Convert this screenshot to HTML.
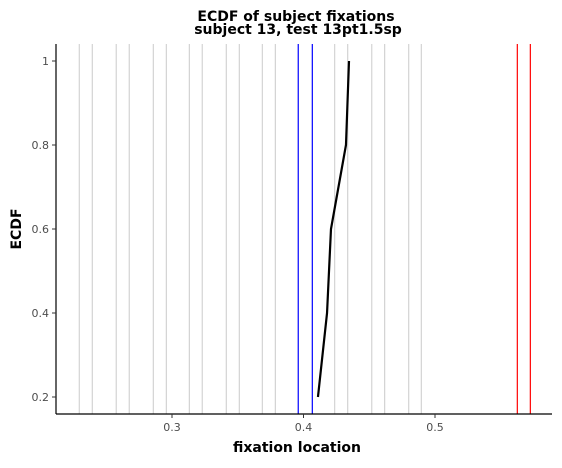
<!DOCTYPE html>
<html><head><meta charset="utf-8"><style>
body{margin:0;background:#fff;font-family:"DejaVu Sans","Liberation Sans",sans-serif}
</style></head><body>
<svg id="chart" width="562" height="464" xmlns="http://www.w3.org/2000/svg" font-family="DejaVu Sans, Liberation Sans, sans-serif">
<text x="296" y="21" text-anchor="middle" font-size="14" font-weight="bold">ECDF of subject fixations</text>
<text x="298" y="34" text-anchor="middle" font-size="14" font-weight="bold">subject 13, test 13pt1.5sp</text>
<g id="marks"></g>
<line x1="56" y1="44" x2="56" y2="414" stroke="#000" stroke-width="1.2"/>
<line x1="56" y1="414" x2="552" y2="414" stroke="#000" stroke-width="1.2"/>
<g id="ticks"></g>
<text x="297" y="452" text-anchor="middle" font-size="14" font-weight="bold">fixation location</text>
<text transform="translate(21,229) rotate(-90)" text-anchor="middle" font-size="14" font-weight="bold">ECDF</text>
</svg>
<script>
const grayLines=[0.2295,0.2394,0.2576,0.2675,0.2858,0.2957,0.3132,0.3230,0.3413,0.3512,0.3687,0.3786,0.4237,0.4336,0.4519,0.4617,0.4800,0.4896];
const blueLines=[0.3960,0.4067];
const redLines=[0.5626,0.5725];
const ecdfX=[0.4110,0.4179,0.4209,0.4323,0.4346];
const ecdfY=[0.2,0.4,0.6,0.8,1.0];
const xTicks=[0.3,0.4,0.5];
const yTicks=[0.2,0.4,0.6,0.8,1];
const NS="http://www.w3.org/2000/svg";
const sx=v=>172+(v-0.3)*1315;
const sy=v=>397-(v-0.2)*420;
const marks=document.getElementById('marks'),ticks=document.getElementById('ticks');
function vline(v,color,name){
  const l=document.createElementNS(NS,'line');
  l.setAttribute('x1',sx(v));l.setAttribute('x2',sx(v));l.setAttribute('y1',44);l.setAttribute('y2',414);
  l.setAttribute('stroke',color);l.setAttribute('stroke-width',1.2);
  
  
  marks.appendChild(l);
}
grayLines.forEach(v=>vline(v,'#d3d3d3','fixation-line'));
blueLines.forEach(v=>vline(v,'#0000ff','blue-reference-line'));
redLines.forEach(v=>vline(v,'#ff0000','red-reference-line'));
const p=document.createElementNS(NS,'polyline');
p.setAttribute('points',ecdfX.map((x,i)=>sx(x)+','+sy(ecdfY[i])).join(' '));
p.setAttribute('fill','none');p.setAttribute('stroke','#000');p.setAttribute('stroke-width',2.2);


marks.appendChild(p);
xTicks.forEach(v=>{
  const l=document.createElementNS(NS,'line');
  l.setAttribute('x1',sx(v));l.setAttribute('x2',sx(v));l.setAttribute('y1',414);l.setAttribute('y2',418);l.setAttribute('stroke','#333');
  
  
  ticks.appendChild(l);
  const t=document.createElementNS(NS,'text');
  t.setAttribute('x',sx(v));t.setAttribute('y',431);t.setAttribute('text-anchor','middle');t.setAttribute('font-size','11');t.setAttribute('fill','#4d4d4d');
  t.textContent=String(v);
  
  
  ticks.appendChild(t);
});
yTicks.forEach(v=>{
  const l=document.createElementNS(NS,'line');
  l.setAttribute('x1',52);l.setAttribute('x2',56);l.setAttribute('y1',sy(v));l.setAttribute('y2',sy(v));l.setAttribute('stroke','#333');
  
  
  ticks.appendChild(l);
  const t=document.createElementNS(NS,'text');
  t.setAttribute('x',49);t.setAttribute('y',sy(v)+4);t.setAttribute('text-anchor','end');t.setAttribute('font-size','11');t.setAttribute('fill','#4d4d4d');
  t.textContent=String(v);
  
  
  ticks.appendChild(t);
});
</script>
</body></html>
